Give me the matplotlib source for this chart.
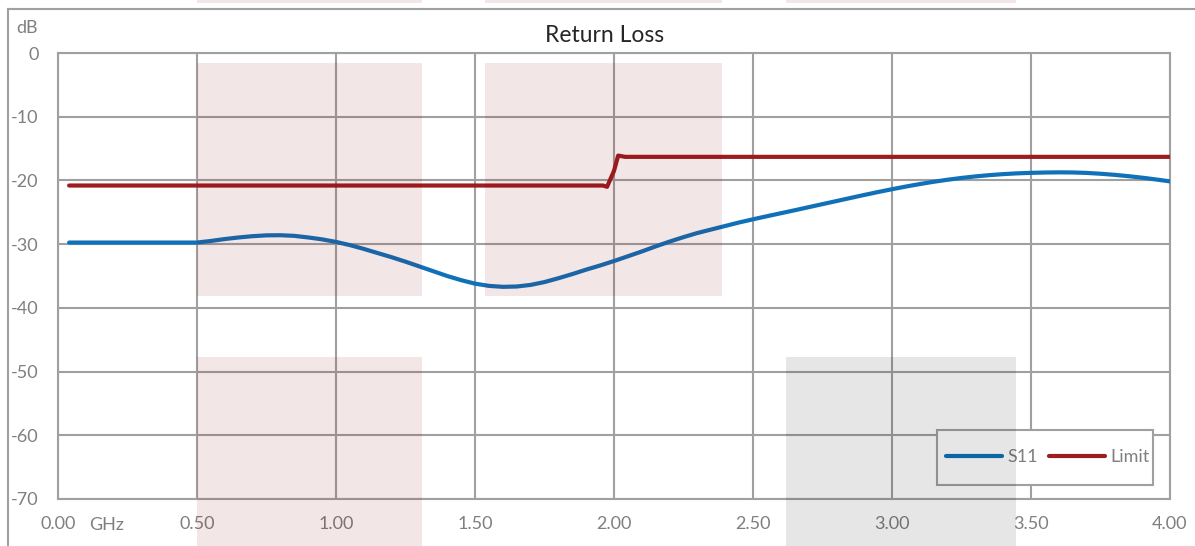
import matplotlib
matplotlib.use("Agg")
import matplotlib.pyplot as plt
from matplotlib.patches import Rectangle
from matplotlib.lines import Line2D

plt.rcParams['font.family'] = ['Lato', 'DejaVu Sans']
plt.rcParams['axes.unicode_minus'] = False

# S11 trace (GHz, dB)
freq_s11 = [0.04, 0.50, 0.55, 0.60, 0.65, 0.70, 0.75, 0.80, 0.85, 0.90, 0.95,
            1.00, 1.05, 1.10, 1.15, 1.20, 1.25, 1.30, 1.35, 1.40, 1.45,
            1.50, 1.55, 1.60, 1.65, 1.70, 1.75, 1.80, 1.85, 1.90, 1.95,
            2.00, 2.05, 2.10, 2.15, 2.20, 2.25, 2.30, 2.35, 2.40, 2.45,
            2.50, 2.55, 2.60, 2.65, 2.70, 2.75, 2.80, 2.85, 2.90, 2.95,
            3.00, 3.05, 3.10, 3.15, 3.20, 3.25, 3.30, 3.35, 3.40, 3.45,
            3.50, 3.55, 3.60, 3.65, 3.70, 3.75, 3.80, 3.85, 3.90, 3.95, 4.00]
s11_db = [-29.75, -29.75, -29.5, -29.2, -28.95, -28.75, -28.62, -28.6, -28.7, -28.95, -29.25,
          -29.65, -30.15, -30.75, -31.4, -32.05, -32.75, -33.5, -34.25, -35.0, -35.65,
          -36.2, -36.55, -36.7, -36.65, -36.4, -35.95, -35.35, -34.7, -34.0, -33.35,
          -32.65, -31.9, -31.15, -30.35, -29.6, -28.9, -28.25, -27.7, -27.15, -26.6,
          -26.1, -25.62, -25.15, -24.68, -24.2, -23.72, -23.24, -22.76, -22.28, -21.82,
          -21.38, -20.96, -20.57, -20.21, -19.89, -19.61, -19.37, -19.17, -19.01, -18.89,
          -18.81, -18.76, -18.73, -18.75, -18.82, -18.95, -19.12, -19.33, -19.57, -19.85, -20.15]

# limit mask
freq_limit = [0.04, 1.96, 1.975, 2.00, 2.015, 2.04, 4.00]
limit_db = [-20.8, -20.8, -21.0, -18.5, -16.1, -16.3, -16.3]

x_ticks = [0.0, 0.5, 1.0, 1.5, 2.0, 2.5, 3.0, 3.5, 4.0]
y_ticks = [0, -10, -20, -30, -40, -50, -60, -70]

GRID = '#a0a0a0'
TXT = '#7f7f7f'
W, H = 1195, 546
AX_L, AX_R, AX_T, AX_B = 58, 1170, 53, 499

fig = plt.figure(figsize=(W / 100, H / 100), dpi=100)
fig.patch.set_facecolor('white')


def fx(px):
    return px / W


def fy(py):
    return 1 - py / H


def ax_x(px):
    return (px - AX_L) / (AX_R - AX_L)


def ax_y(py):
    return (AX_B - py) / (AX_B - AX_T)


ax = fig.add_axes([fx(AX_L), fy(AX_B), fx(AX_R) - fx(AX_L), fy(AX_T) - fy(AX_B)])
ax.set_xlim(0, 4)
ax.set_ylim(-70, 0)
ax.set_xticks(x_ticks)
ax.set_xticklabels([f"{t:.2f}" for t in x_ticks])
ax.set_yticks(y_ticks)
ax.grid(True, color=GRID, linewidth=1.5)
ax.set_axisbelow(True)
for s in ax.spines.values():
    s.set_color(GRID)
    s.set_linewidth(1.5)
ax.tick_params(length=0, labelsize=13, labelcolor=TXT)
ax.tick_params(axis='x', pad=12)
ax.tick_params(axis='y', pad=14)

ax.plot(freq_s11, s11_db, color='#1071b9', linewidth=3, label='S11',
        solid_capstyle='round', solid_joinstyle='round', zorder=3)
ax.plot(freq_limit, limit_db, color='#9c1c20', linewidth=3, label='Limit',
        solid_capstyle='round', solid_joinstyle='round', zorder=3)

# legend box drawn separately so it can sit at the same spot as the original
ax.add_patch(Rectangle((ax_x(937), ax_y(485)), ax_x(1153) - ax_x(937), ax_y(430) - ax_y(485),
                       transform=ax.transAxes, facecolor='white', edgecolor=GRID,
                       linewidth=1.5, zorder=4))
leg = ax.legend(loc='center', bbox_to_anchor=(ax_x(1048), ax_y(457)),
                ncol=2, fontsize=13, frameon=False, handlelength=3.1, handletextpad=0.3,
                columnspacing=0.6, borderpad=0, borderaxespad=0)
leg.set_zorder(5)
for t in leg.get_texts():
    t.set_color(TXT)

ax.set_title('Return Loss', fontsize=16.5, color='#262626', pad=8, x=ax_x(605))
fig.text(fx(27), fy(28), 'dB', ha='center', va='center', fontsize=13, color=TXT)
fig.text(fx(107), fy(525), 'GHz', ha='center', va='center', fontsize=13, color=TXT)

# outer chart frame
fig.add_artist(Line2D([fx(8), 1], [fy(9), fy(9)], color=GRID, linewidth=1.5))
fig.add_artist(Line2D([fx(8), fx(8)], [fy(9), 0], color=GRID, linewidth=1.5))

# translucent overlay blocks
pink = (133 / 255, 0, 0)
blocks = [
    (197, 422, -5, 3, pink), (485, 722, -5, 3, pink), (786, 1016, -5, 3, pink),
    (197, 422, 63, 296, pink), (485, 722, 63, 296, pink),
    (197, 422, 357, 560, pink), (786, 1016, 357, 560, 'black'),
]
for x0, x1, y0, y1, c in blocks:
    fig.add_artist(Rectangle((fx(x0), fy(y1)), fx(x1) - fx(x0), fy(y0) - fy(y1),
                             transform=fig.transFigure, facecolor=c, alpha=0.098,
                             edgecolor='none', zorder=10))

fig.savefig('out.png', dpi=100)
